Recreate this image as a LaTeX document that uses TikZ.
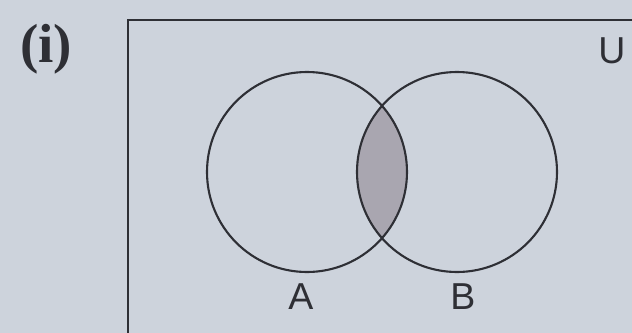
\documentclass[tikz,border=0pt]{standalone}
\usepackage{fontspec}
\newfontfamily\labelfont{Liberation Sans}
\newfontfamily\partfont{Liberation Serif}
\usepackage{xcolor}
\usetikzlibrary{positioning}

\definecolor{paper}{HTML}{CDD3DC}
\definecolor{ink}{HTML}{2E2F35}
\definecolor{lens}{HTML}{A9A6B0}

\begin{document}
\begin{tikzpicture}[
  x=0.03cm, y=-0.03cm,
  setline/.style={draw=ink, line width=1.8pt},
  boxline/.style={draw=ink, line width=2.1pt},
  setlabel/.style={font=\labelfont\fontsize{32}{38}\selectfont, text=ink, inner sep=0pt},
  partlabel/.style={font=\partfont\bfseries\fontsize{47}{56}\selectfont, text=ink, inner sep=0pt}
]
  \fill[paper] (0,0) rectangle (632,333);
  \useasboundingbox (0,0) rectangle (632,333);

  % universal set, cut off at the page edge
  \begin{scope}
    \clip (0,0) rectangle (632,333);
    \draw[boxline] (128,345) |- (650,20);
  \end{scope}

  \coordinate (cA) at (307,172);
  \coordinate (cB) at (457,172);

  % A intersect B
  \begin{scope}
    \clip (cA) circle (100);
    \fill[lens] (cB) circle (100);
  \end{scope}
  \draw[setline] (cA) circle (100);
  \draw[setline] (cB) circle (100);

  \node[partlabel] (part) at (46,49) {(i)};
  \node[setlabel]  (univ) at (612,51) {U};
  \node[setlabel]  (labA) at (301,297) {A};
  \node[setlabel]  (labB) at (463,297) {B};
\end{tikzpicture}
\end{document}
